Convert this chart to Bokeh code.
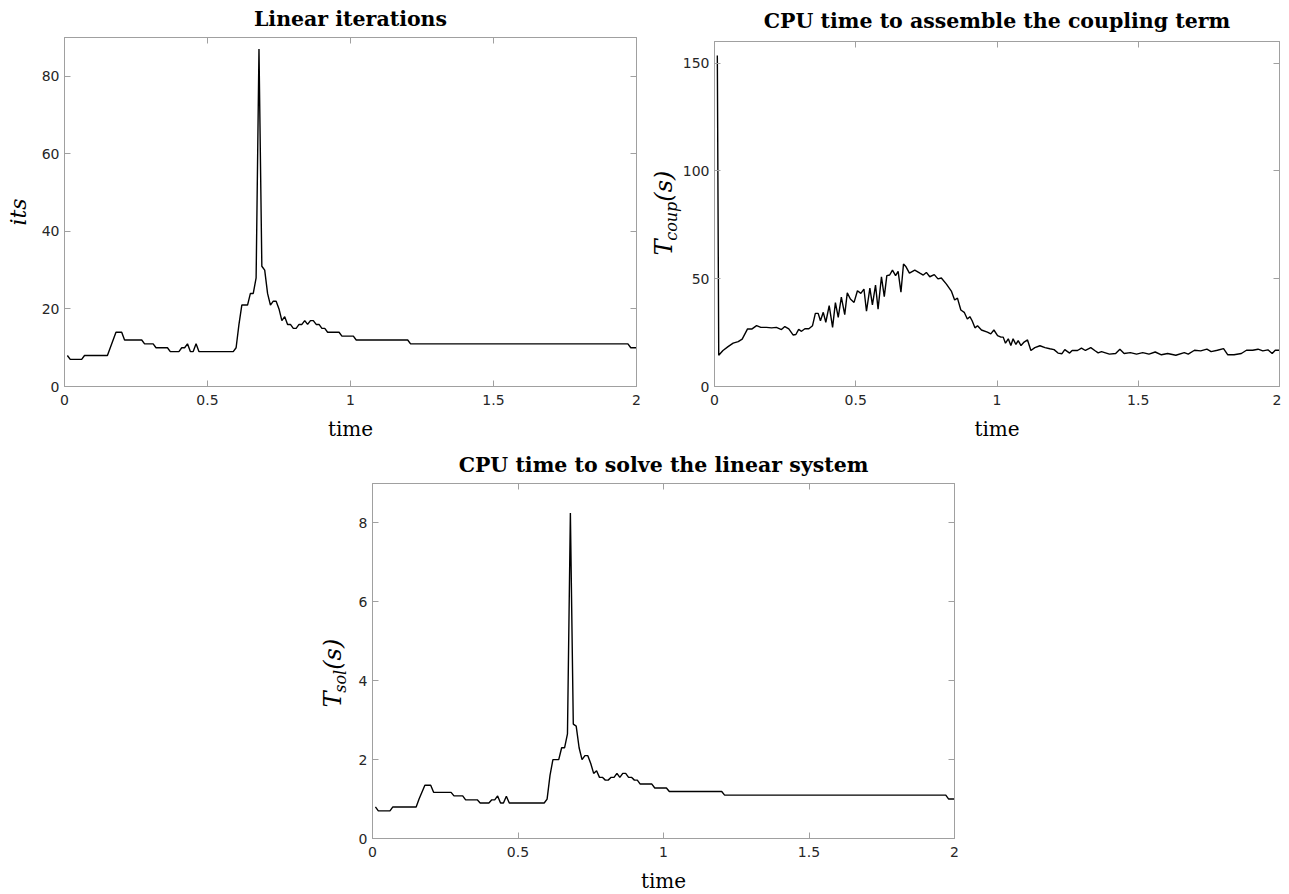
import math
from bokeh.plotting import figure
from bokeh.models import (Range1d, FixedTicker, LinearAxis, NumeralTickFormatter,
                          Spacer, CustomJSTickFormatter, Title)
from bokeh.layouts import column, row
from bokeh.embed import file_html
from bokeh.resources import INLINE

# ---------------- data ----------------
time_steps = [0.01, 0.02, 0.06, 0.07, 0.15, 0.16, 0.18, 0.20, 0.21, 0.27,
              0.28, 0.31, 0.32, 0.36, 0.37, 0.40, 0.41, 0.42, 0.43, 0.44,
              0.45, 0.46, 0.47, 0.59, 0.60, 0.61, 0.62, 0.64, 0.65, 0.66,
              0.67, 0.68, 0.69, 0.70, 0.71, 0.72, 0.73, 0.74, 0.75, 0.76,
              0.77, 0.78, 0.79, 0.80, 0.81, 0.82, 0.83, 0.84, 0.85, 0.86,
              0.87, 0.88, 0.89, 0.90, 0.91, 0.92, 0.96, 0.97, 1.01, 1.02,
              1.20, 1.21, 1.97, 1.98, 2.00]
its = [8, 7, 7, 8, 8, 10, 14, 14, 12, 12,
       11, 11, 10, 10, 9, 9, 10, 10, 11, 9,
       9, 11, 9, 9, 10, 16, 21, 21, 24, 24,
       28, 87, 31, 30, 24, 21, 22, 22, 20, 17,
       18, 16, 16, 15, 15, 16, 16, 17, 16, 17,
       17, 16, 16, 15, 15, 14, 14, 13, 13, 12,
       12, 11, 11, 10, 10]
t_sol = [0.8, 0.7, 0.7, 0.8, 0.8, 1.0, 1.35, 1.35, 1.17, 1.17,
         1.08, 1.08, 0.98, 0.98, 0.9, 0.9, 0.98, 0.98, 1.08, 0.9,
         0.9, 1.07, 0.9, 0.9, 1.0, 1.6, 2.0, 2.0, 2.3, 2.3,
         2.65, 8.25, 2.9, 2.85, 2.3, 2.0, 2.1, 2.1, 1.9, 1.65,
         1.72, 1.55, 1.55, 1.48, 1.48, 1.55, 1.55, 1.65, 1.55, 1.65,
         1.65, 1.55, 1.55, 1.48, 1.48, 1.38, 1.38, 1.28, 1.28, 1.19,
         1.19, 1.1, 1.1, 1.0, 1.0]

time_coup = [0.01, 0.015, 0.03, 0.048, 0.066, 0.084, 0.098, 0.117, 0.133, 0.149,
             0.164, 0.184, 0.202, 0.219, 0.237, 0.249, 0.263, 0.278, 0.288, 0.298,
             0.308, 0.320, 0.334, 0.347, 0.357, 0.367, 0.375, 0.385, 0.394, 0.406,
             0.418, 0.428, 0.438, 0.449, 0.461, 0.470, 0.481, 0.494, 0.506, 0.518,
             0.529, 0.538, 0.550, 0.559, 0.570, 0.579, 0.591, 0.601, 0.610, 0.620,
             0.630, 0.641, 0.650, 0.660, 0.669, 0.678, 0.690, 0.709, 0.727, 0.739,
             0.750, 0.762, 0.778, 0.791, 0.803, 0.821, 0.839, 0.850, 0.860, 0.872,
             0.884, 0.895, 0.904, 0.912, 0.922, 0.931, 0.945, 0.966, 0.978, 0.989,
             1.002, 1.014, 1.022, 1.030, 1.040, 1.049, 1.057, 1.067, 1.075, 1.085,
             1.096, 1.108, 1.120, 1.134, 1.152, 1.170, 1.187, 1.202, 1.216, 1.230,
             1.240, 1.257, 1.266, 1.285, 1.299, 1.313, 1.332, 1.346, 1.358, 1.370,
             1.398, 1.420, 1.435, 1.450, 1.472, 1.494, 1.516, 1.538, 1.560, 1.582,
             1.604, 1.633, 1.663, 1.677, 1.699, 1.721, 1.743, 1.758, 1.780, 1.802,
             1.817, 1.839, 1.865, 1.883, 1.905, 1.924, 1.941, 1.959, 1.974, 1.985,
             2.0]
t_coup = [153.5, 14.5, 16.7, 18.5, 20.1, 20.8, 22.0, 26.7, 26.7, 28.2,
          27.4, 27.4, 27.2, 27.4, 26.4, 27.8, 26.7, 23.9, 24.1, 26.5,
          25.6, 26.8, 26.8, 28.2, 33.9, 33.9, 30.5, 34.4, 29.8, 37.5,
          27.4, 38.9, 32.1, 41.4, 33.3, 43.4, 40.6, 39.0, 44.4, 43.2,
          45.2, 34.9, 45.6, 37.9, 47.0, 35.9, 50.9, 41.7, 51.4, 51.7,
          54.0, 51.4, 53.4, 43.7, 56.8, 55.5, 52.6, 54.0, 52.6, 51.7,
          52.9, 50.9, 51.9, 49.9, 50.3, 47.5, 44.1, 40.1, 41.0, 35.5,
          34.4, 31.3, 32.4, 30.5, 27.2, 28.2, 26.2, 25.2, 24.4, 26.2,
          23.6, 22.9, 22.9, 20.1, 22.1, 19.0, 22.1, 19.5, 21.3, 19.0,
          20.6, 21.6, 16.7, 18.0, 18.9, 18.0, 17.5, 17.1, 15.5, 15.2,
          17.1, 15.5, 16.7, 16.7, 17.8, 16.7, 18.0, 16.7, 15.6, 16.2,
          15.0, 15.3, 17.3, 15.3, 15.7, 15.0, 15.7, 15.0, 16.0, 14.7,
          15.3, 14.5, 15.7, 15.0, 16.8, 16.5, 17.3, 16.2, 16.8, 17.6,
          14.7, 14.7, 15.3, 16.8, 16.8, 17.3, 16.5, 17.0, 15.3, 16.8,
          16.8]

x_ticks = [0, 0.5, 1, 1.5, 2]
its_ticks = [0, 20, 40, 60, 80]
coup_ticks = [0, 50, 100, 150]
sol_ticks = [0, 2, 4, 6, 8]

titles = ["Linear iterations",
          "CPU time to assemble the coupling term",
          "CPU time to solve the linear system"]
x_label = "time"

# ---------------- style ----------------
FRAME = "#a0a0a0"
TICK_TXT = "#262626"
TITLE_FONT = "DejaVu Serif"
MATH_FONT = "DejaVu Serif"
LABEL_FONT = "DejaVu Serif"
H_EM = 1.16   # approx. text box height per em


def style_axis(ax, show_labels=True):
    ax.axis_line_color = FRAME
    ax.major_tick_line_color = FRAME
    ax.major_tick_in = 6
    ax.major_tick_out = 0
    ax.minor_tick_line_color = None
    ax.major_label_text_font = "DejaVu Sans"
    ax.major_label_text_font_size = "14px"
    ax.major_label_text_color = TICK_TXT
    ax.major_label_standoff = 5 if show_labels else 0
    if not show_labels:
        ax.minor_tick_out = 0
        ax.major_label_text_font_size = "1px"


def make_plot(title, y_max, y_ticks, fw, fh, bl, br, bt, bb, title_gap):
    p = figure(frame_width=fw, frame_height=fh,
               min_border_left=bl, min_border_right=br,
               min_border_top=bt, min_border_bottom=bb,
               x_range=Range1d(0, 2), y_range=Range1d(0, y_max),
               output_backend="svg", toolbar_location=None, title=title)
    p.title.text_font = TITLE_FONT
    p.title.text_font_style = "bold"
    p.title.text_font_size = "20.5px"
    p.title.text_color = "black"
    p.title.align = "center"
    p.title.vertical_align = "top"
    p.title.standoff = title_gap
    p.title.offset = 0
    p.xgrid.visible = False
    p.ygrid.visible = False
    p.outline_line_color = FRAME
    p.background_fill_color = "white"
    p.border_fill_color = "white"

    xa = p.xaxis[0]
    xa.ticker = FixedTicker(ticks=x_ticks)
    xa.formatter = NumeralTickFormatter(format="0.[0]")
    style_axis(xa)
    xa.major_label_standoff = 8
    xa.axis_label = x_label
    xa.axis_label_text_font = LABEL_FONT
    xa.axis_label_text_font_style = "normal"
    xa.axis_label_text_font_size = "20px"
    xa.axis_label_text_color = "black"
    xa.axis_label_standoff = 9

    ya = p.yaxis[0]
    ya.ticker = FixedTicker(ticks=y_ticks)
    ya.formatter = NumeralTickFormatter(format="0")
    style_axis(ya)

    empty = CustomJSTickFormatter(code="return ''")
    ra = LinearAxis(ticker=FixedTicker(ticks=y_ticks), formatter=empty)
    style_axis(ra, False)
    p.add_layout(ra, "right")
    ta = LinearAxis(ticker=FixedTicker(ticks=x_ticks), formatter=empty)
    style_axis(ta, False)
    p.add_layout(ta, "above")
    return p


def side_gap(p, width, tick):
    """invisible left-side spacer (an axis with hidden outer tick)"""
    gap = LinearAxis(ticker=FixedTicker(ticks=[tick]),
                     formatter=CustomJSTickFormatter(code="return ''"))
    gap.axis_line_color = None
    gap.major_tick_line_color = None
    gap.minor_tick_line_color = None
    gap.major_tick_in = 0
    gap.major_tick_out = width
    gap.minor_tick_out = width
    gap.major_label_standoff = 0
    gap.major_label_text_font_size = "1px"
    p.add_layout(gap, "left")


def side_text(p, text, size, offset, width, valign="middle", align="left"):
    """Italic math-like text placed in the left panel, reading upwards."""
    standoff = width - 2 - H_EM * size
    p.add_layout(Title(text=text, align=align, vertical_align=valign,
                       text_font=MATH_FONT, text_font_style="italic",
                       text_font_size=f"{size}px", text_color="black",
                       standoff=standoff, offset=offset), "left")


def sub_label(p, main, sub, tail, sub_w, offset0, w_main):
    # columns from frame outwards: subscript, main letter, tail (zero width)
    side_text(p, sub, 16, offset0 + w_main, 15.6)
    side_text(p, main, 24, offset0, 0.0)
    side_text(p, tail, 24, offset0 + w_main + sub_w, 0.0)


# plot 1: linear iterations
p1 = make_plot(titles[0], 90, its_ticks, 572, 349, 63, 15, 37, 59, 9)
p1.line(time_steps, its, line_color="black", line_width=1.4)
p1.add_layout(Title(text="its", align="center", vertical_align="top",
                    text_font=MATH_FONT, text_font_style="italic",
                    text_font_size="22px", text_color="black",
                    standoff=11, offset=0), "left")

# plot 2: coupling term
p2 = make_plot(titles[1], 160, coup_ticks, 565, 345, 63, 2, 41, 59, 13)
p2.line(time_coup, t_coup, line_color="black", line_width=1.4)
sub_label(p2, "T", "coup", "(s)", 39.1, 131, 14.7)

# plot 3: linear system
p3 = make_plot(titles[2], 9, sol_ticks, 582, 355, 72, 10, 38, 48, 10)
p3.line(time_steps, t_sol, line_color="black", line_width=1.4)
side_gap(p3, 7, sol_ticks[0])
sub_label(p3, "T", "sol", "(s)", 23.0, 131, 14.7)

layout = column(row(column(p1), column(p2)),
                row(Spacer(width=300, height=10), column(p3)))

open("out.html", "w").write(file_html(layout, INLINE))
